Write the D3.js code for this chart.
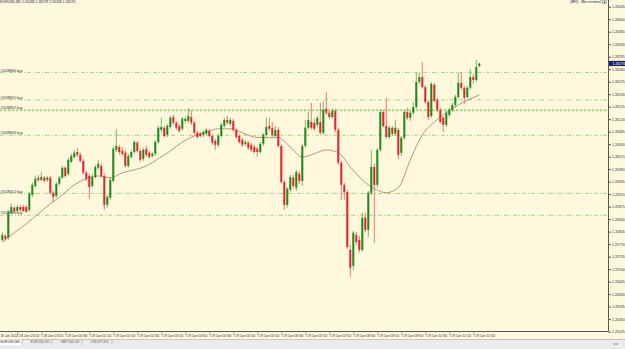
<!DOCTYPE html>
<html>
<head>
<meta charset="utf-8">
<script src="https://cdn.jsdelivr.net/npm/d3@7"></script>
<style>
  html, body { margin: 0; padding: 0; background: #fff8dc; overflow: hidden; }
  svg { display: block; font-family: "Liberation Sans", Arial, sans-serif; }
</style>
</head>
<body>
<div id="chart"></div>
<script>
// EURUSD M5, 18 Jun 2012 22:45 .. 19 Jun 2012 12:00
const symbolTitle = "EURUSD,M5  1.26268 1.26278 1.26268 1.26276";
const terminalTitle = "(BFI) - Mini terminal";
const tabNames = ["EURUSD,M5", "EURUSD,H1", "GBPUSD,H1", "USDJPY,H1"];

const open = [
  1.25782, 1.25793, 1.25788, 1.25858, 1.25872, 1.25863, 1.25874, 1.25874, 1.25874, 1.25866,
  1.25908, 1.25933, 1.25956, 1.25950, 1.25956, 1.25950, 1.25956, 1.25914, 1.25905, 1.25939,
  1.25956, 1.25984, 1.25967, 1.26000, 1.26014, 1.26028, 1.26020, 1.26003, 1.25970, 1.25961,
  1.25933, 1.25958, 1.25984, 1.25989, 1.25961, 1.25880, 1.25900, 1.25947, 1.26034, 1.26042,
  1.26031, 1.26026, 1.25989, 1.26014, 1.26028, 1.26054, 1.26031, 1.26009, 1.26037, 1.26026,
  1.26017, 1.26023, 1.26056, 1.26090, 1.26096, 1.26076, 1.26098, 1.26126, 1.26110, 1.26101,
  1.26093, 1.26115, 1.26115, 1.26126, 1.26110, 1.26082, 1.26079, 1.26076, 1.26079, 1.26087,
  1.26073, 1.26059, 1.26048, 1.26073, 1.26101, 1.26118, 1.26107, 1.26115, 1.26090, 1.26073,
  1.26062, 1.26051, 1.26054, 1.26048, 1.26042, 1.26037, 1.26028, 1.26051, 1.26076, 1.26101,
  1.26096, 1.26073, 1.26090, 1.26045, 1.25944, 1.25880, 1.25922, 1.25956, 1.25928, 1.25967,
  1.25947, 1.26045, 1.26096, 1.26112, 1.26110, 1.26104, 1.26112, 1.26082, 1.26149, 1.26138,
  1.26126, 1.26143, 1.26090, 1.25998, 1.25936, 1.25916, 1.25754, 1.25709, 1.25796, 1.25782,
  1.25754, 1.25844, 1.25810, 1.25914, 1.25986, 1.25936, 1.26034, 1.26140, 1.26101, 1.26070,
  1.26096, 1.26079, 1.26090, 1.26026, 1.26068, 1.26140, 1.26124, 1.26138, 1.26154, 1.26224,
  1.26238, 1.26210, 1.26168, 1.26129, 1.26216, 1.26174, 1.26146, 1.26124, 1.26104, 1.26132,
  1.26146, 1.26160, 1.26182, 1.26222, 1.26208, 1.26182, 1.26208, 1.26238, 1.26230, 1.26268
];
const high = [
  1.25804, 1.25799, 1.25866, 1.25883, 1.25877, 1.25880, 1.25880, 1.25880, 1.25880, 1.25916,
  1.25942, 1.25961, 1.25964, 1.25972, 1.25961, 1.25961, 1.25961, 1.25919, 1.25944, 1.25961,
  1.25989, 1.25989, 1.26012, 1.26023, 1.26034, 1.26040, 1.26026, 1.26009, 1.25975, 1.25967,
  1.25967, 1.25992, 1.26006, 1.25998, 1.25967, 1.25908, 1.25956, 1.26042, 1.26093, 1.26048,
  1.26042, 1.26034, 1.26023, 1.26034, 1.26062, 1.26059, 1.26037, 1.26040, 1.26045, 1.26031,
  1.26028, 1.26062, 1.26101, 1.26124, 1.26101, 1.26107, 1.26129, 1.26132, 1.26115, 1.26107,
  1.26126, 1.26126, 1.26152, 1.26146, 1.26115, 1.26087, 1.26084, 1.26090, 1.26096, 1.26093,
  1.26079, 1.26065, 1.26079, 1.26110, 1.26124, 1.26129, 1.26124, 1.26121, 1.26096, 1.26079,
  1.26068, 1.26062, 1.26059, 1.26054, 1.26048, 1.26042, 1.26056, 1.26082, 1.26124, 1.26124,
  1.26112, 1.26101, 1.26098, 1.26051, 1.25950, 1.25930, 1.25964, 1.25964, 1.25978, 1.25975,
  1.26051, 1.26118, 1.26140, 1.26166, 1.26121, 1.26129, 1.26166, 1.26171, 1.26196, 1.26143,
  1.26149, 1.26149, 1.26096, 1.26003, 1.25942, 1.25922, 1.25768, 1.25807, 1.25804, 1.25793,
  1.25858, 1.25858, 1.25919, 1.26034, 1.25995, 1.26040, 1.26146, 1.26146, 1.26180, 1.26101,
  1.26101, 1.26118, 1.26096, 1.26073, 1.26146, 1.26152, 1.26143, 1.26168, 1.26250, 1.26250,
  1.26280, 1.26216, 1.26174, 1.26224, 1.26222, 1.26180, 1.26152, 1.26129, 1.26143, 1.26152,
  1.26166, 1.26188, 1.26250, 1.26250, 1.26213, 1.26213, 1.26261, 1.26247, 1.26286, 1.26278
];
const low = [
  1.25776, 1.25779, 1.25782, 1.25855, 1.25858, 1.25858, 1.25860, 1.25860, 1.25858, 1.25860,
  1.25902, 1.25928, 1.25944, 1.25947, 1.25942, 1.25944, 1.25908, 1.25888, 1.25900, 1.25933,
  1.25953, 1.25956, 1.25961, 1.25998, 1.26009, 1.26014, 1.25998, 1.25964, 1.25947, 1.25897,
  1.25928, 1.25953, 1.25978, 1.25956, 1.25866, 1.25872, 1.25894, 1.25942, 1.26028, 1.26020,
  1.26017, 1.25984, 1.25984, 1.26009, 1.26023, 1.26026, 1.26000, 1.26003, 1.26014, 1.26009,
  1.26012, 1.26017, 1.26051, 1.26084, 1.26068, 1.26070, 1.26093, 1.26104, 1.26090, 1.26082,
  1.26087, 1.26110, 1.26110, 1.26104, 1.26076, 1.26065, 1.26068, 1.26070, 1.26073, 1.26068,
  1.26048, 1.26034, 1.26042, 1.26068, 1.26096, 1.26104, 1.26101, 1.26084, 1.26065, 1.26051,
  1.26042, 1.26045, 1.26034, 1.26028, 1.26023, 1.26014, 1.26023, 1.26045, 1.26070, 1.26087,
  1.26070, 1.26068, 1.26040, 1.25939, 1.25866, 1.25872, 1.25916, 1.25925, 1.25919, 1.25939,
  1.25933, 1.26040, 1.26090, 1.26090, 1.26087, 1.26098, 1.26076, 1.26076, 1.26132, 1.26121,
  1.26121, 1.26082, 1.25992, 1.25894, 1.25894, 1.25757, 1.25678, 1.25698, 1.25768, 1.25746,
  1.25748, 1.25802, 1.25790, 1.25908, 1.25774, 1.25928, 1.26028, 1.26096, 1.26065, 1.26065,
  1.26073, 1.26073, 1.26006, 1.26017, 1.26062, 1.26118, 1.26115, 1.26132, 1.26149, 1.26219,
  1.26205, 1.26163, 1.26118, 1.26124, 1.26166, 1.26140, 1.26107, 1.26084, 1.26098, 1.26126,
  1.26140, 1.26154, 1.26177, 1.26202, 1.26163, 1.26177, 1.26202, 1.26219, 1.26224, 1.26268
];
const close = [
  1.25796, 1.25785, 1.25858, 1.25874, 1.25863, 1.25874, 1.25866, 1.25863, 1.25860, 1.25911,
  1.25936, 1.25953, 1.25950, 1.25958, 1.25947, 1.25956, 1.25914, 1.25902, 1.25939, 1.25956,
  1.25984, 1.25961, 1.26006, 1.26017, 1.26026, 1.26020, 1.26003, 1.25970, 1.25953, 1.25930,
  1.25958, 1.25986, 1.25995, 1.25961, 1.25880, 1.25902, 1.25950, 1.26037, 1.26045, 1.26028,
  1.26023, 1.25989, 1.26017, 1.26028, 1.26056, 1.26031, 1.26006, 1.26034, 1.26020, 1.26014,
  1.26023, 1.26056, 1.26096, 1.26098, 1.26073, 1.26101, 1.26124, 1.26110, 1.26096, 1.26087,
  1.26121, 1.26121, 1.26129, 1.26110, 1.26082, 1.26070, 1.26073, 1.26084, 1.26090, 1.26073,
  1.26054, 1.26048, 1.26073, 1.26104, 1.26118, 1.26110, 1.26118, 1.26090, 1.26070, 1.26056,
  1.26048, 1.26056, 1.26040, 1.26034, 1.26028, 1.26028, 1.26051, 1.26076, 1.26098, 1.26093,
  1.26076, 1.26090, 1.26045, 1.25944, 1.25880, 1.25925, 1.25958, 1.25933, 1.25972, 1.25947,
  1.26045, 1.26096, 1.26118, 1.26096, 1.26093, 1.26124, 1.26082, 1.26146, 1.26138, 1.26126,
  1.26143, 1.26090, 1.25998, 1.25936, 1.25916, 1.25762, 1.25704, 1.25802, 1.25776, 1.25754,
  1.25844, 1.25810, 1.25914, 1.25986, 1.25936, 1.26034, 1.26140, 1.26101, 1.26070, 1.26096,
  1.26079, 1.26096, 1.26020, 1.26068, 1.26140, 1.26124, 1.26138, 1.26154, 1.26224, 1.26238,
  1.26210, 1.26168, 1.26126, 1.26219, 1.26171, 1.26146, 1.26112, 1.26104, 1.26138, 1.26146,
  1.26160, 1.26182, 1.26222, 1.26208, 1.26180, 1.26208, 1.26238, 1.26230, 1.26266, 1.26276
];

// moving average at these bar numbers
const maBars = [0, 4, 8, 12, 16, 20, 24, 28, 32, 36, 40, 44, 48, 52, 56, 60, 64, 68, 72, 76,
  80, 84, 88, 92, 96, 100, 104, 108, 112, 116, 120, 124, 128, 132, 136, 140, 144, 148, 152, 156, 159];
const maValues = [
  1.25776, 1.25802, 1.25827, 1.25855, 1.25883, 1.25908, 1.25936, 1.25953, 1.25961, 1.25956,
  1.25970, 1.25978, 1.25989, 1.26009, 1.26031, 1.26056, 1.26073, 1.26084, 1.26093, 1.26093,
  1.26082, 1.26070, 1.26068, 1.26068, 1.26042, 1.26014, 1.26023, 1.26034, 1.26026, 1.25986,
  1.25950, 1.25925, 1.25914, 1.25928, 1.26006, 1.26076, 1.26112, 1.26138, 1.26160, 1.26177, 1.26188
];

// open orders
const orderPrices = [1.26251, 1.26174, 1.26145, 1.26075, 1.25912, 1.25851];
const orderLabels = ["#5028846 buy", "#5028815 buy", "#5028857 buy", "#5028843 buy", "#5028452 buy", "#5028683 buy"];

const priceTicks = [
  1.26435, 1.26400, 1.26365, 1.26330, 1.26295, 1.26260, 1.26225, 1.26190, 1.26155, 1.26120,
  1.26085, 1.26050, 1.26015, 1.25980, 1.25945, 1.25910, 1.25875, 1.25840, 1.25805, 1.25770,
  1.25735, 1.25700, 1.25665, 1.25630, 1.25595, 1.25560, 1.25525
];
const firstDateLabel = "18 Jun 2012";
const timeTicks = [
  "18 Jun 23:10", "18 Jun 23:50", "19 Jun 00:30", "19 Jun 01:10", "19 Jun 01:50",
  "19 Jun 02:30", "19 Jun 03:10", "19 Jun 03:50", "19 Jun 04:30", "19 Jun 05:10",
  "19 Jun 05:50", "19 Jun 06:30", "19 Jun 07:10", "19 Jun 07:50", "19 Jun 08:30",
  "19 Jun 09:10", "19 Jun 09:50", "19 Jun 10:30", "19 Jun 11:10", "19 Jun 11:50"
];
const lastPrice = 1.26276;

// ---- layout
const W = 625, H = 349;
const plotRight = 608, plotBottom = 331;
const bg = "#fff8dc";
const bull = "#1b8a1b", bear = "#e0262b";
const textColor = "#2e2e3a";
const fs = 3.5;

const svg = d3.select("#chart").append("svg")
    .attr("width", W)
    .attr("height", H);

svg.append("rect").attr("width", W).attr("height", H).attr("fill", bg);

const barTimes = d3.timeMinute.every(5).range(new Date(2012, 5, 18, 22, 45), new Date(2012, 5, 19, 12, 5));
const bars = barTimes.map((t, i) => ({ t, o: open[i], h: high[i], l: low[i], c: close[i] }));

const x = d3.scaleTime()
    .domain([barTimes[0], barTimes[barTimes.length - 1]])
    .range([2.3, 479.3]);
const y = d3.scaleLinear()
    .domain([1.25525, 1.26435])
    .range([331.6, 6.7]);

const plot = svg.append("g");

// Order lines
plot.selectAll("line.order")
    .data(orderPrices)
    .join("line")
    .attr("class", "order")
    .attr("x1", 0)
    .attr("x2", plotRight)
    .attr("y1", d => y(d))
    .attr("y2", d => y(d))
    .attr("stroke", "#a6d287")
    .attr("stroke-width", (d, i) => i === 2 ? 2 : 1)
    .attr("stroke-dasharray", (d, i) => i === 2 ? "2.5,1.5" : "4,2,1,2");

plot.selectAll("text.order")
    .data(orderPrices)
    .join("text")
    .attr("class", "order")
    .attr("x", 0.3)
    .attr("y", d => y(d) - 0.8)
    .attr("font-size", fs)
    .attr("fill", textColor)
    .text((d, i) => orderLabels[i]);

// Moving average
const maLine = d3.line()
    .x((d, i) => x(barTimes[maBars[i]]))
    .y(d => y(d))
    .curve(d3.curveMonotoneX);

plot.append("path")
    .datum(maValues)
    .attr("d", maLine)
    .attr("fill", "none")
    .attr("stroke", "#b08870")
    .attr("stroke-width", 0.9);

// Candles
const candles = plot.selectAll("g.candle")
    .data(bars)
    .join("g")
    .attr("class", "candle");

candles.append("line")
    .attr("x1", d => x(d.t))
    .attr("x2", d => x(d.t))
    .attr("y1", d => y(d.h))
    .attr("y2", d => y(d.l))
    .attr("stroke", d => d.c >= d.o ? bull : bear)
    .attr("stroke-opacity", 0.65)
    .attr("stroke-width", 0.9);

candles.append("rect")
    .attr("x", d => x(d.t) - 1)
    .attr("width", 2)
    .attr("y", d => y(Math.max(d.o, d.c)))
    .attr("height", d => Math.max(0.8, Math.abs(y(d.o) - y(d.c))))
    .attr("fill", d => d.c >= d.o ? bull : bear);

// Frame
svg.append("line")
    .attr("x1", plotRight + 0.5).attr("x2", plotRight + 0.5)
    .attr("y1", 0).attr("y2", plotBottom + 0.5)
    .attr("stroke", "#5a5a5a").attr("stroke-width", 1);
svg.append("line")
    .attr("x1", 0).attr("x2", plotRight + 0.5)
    .attr("y1", plotBottom + 0.5).attr("y2", plotBottom + 0.5)
    .attr("stroke", "#5a5a5a").attr("stroke-width", 1);

// Price axis
const yAxis = d3.axisRight(y)
    .tickValues(priceTicks)
    .tickFormat(d3.format(".5f"))
    .tickSize(2.5)
    .tickPadding(1);

const yAxisG = svg.append("g")
    .attr("transform", `translate(${plotRight + 0.5},0)`)
    .call(yAxis);
yAxisG.select(".domain").remove();
yAxisG.selectAll("line").attr("stroke", "#555");
yAxisG.selectAll("text")
    .attr("font-size", fs)
    .attr("font-family", "Liberation Sans, Arial, sans-serif")
    .attr("fill", textColor);

// Last price marker
const lp = svg.append("g").attr("transform", `translate(${plotRight + 1},${y(lastPrice)})`);
lp.append("rect")
    .attr("x", 0).attr("y", -2.6)
    .attr("width", 16).attr("height", 5.2)
    .attr("fill", "#1d2168");
lp.append("text")
    .attr("x", 3.5).attr("y", 1.2)
    .attr("font-size", fs)
    .attr("fill", "#fff")
    .text(d3.format(".5f")(lastPrice));

// Time axis
const parseTick = d3.timeParse("%d %b %Y %H:%M");
const tickDates = timeTicks.map(s => parseTick(`${s.slice(0, 6)} 2012 ${s.slice(7)}`));

const xAxis = d3.axisBottom(x)
    .tickValues(tickDates)
    .tickSize(5)
    .tickFormat((d, i) => timeTicks[i]);

const xAxisG = svg.append("g")
    .attr("transform", `translate(0,${plotBottom + 0.5})`)
    .call(xAxis);
xAxisG.select(".domain").remove();
xAxisG.selectAll("line").attr("stroke", "#777").attr("stroke-width", 0.6);
xAxisG.selectAll("text")
    .attr("font-size", fs)
    .attr("font-family", "Liberation Sans, Arial, sans-serif")
    .attr("fill", textColor)
    .attr("text-anchor", "start")
    .attr("dx", 1.2)
    .attr("y", 2.6)
    .attr("dy", "0.71em");

svg.append("text")
    .attr("x", 0.3)
    .attr("y", plotBottom + 5.6)
    .attr("font-size", 3.2)
    .attr("fill", textColor)
    .text(firstDateLabel);

// Titles
svg.append("text")
    .attr("x", 0.3).attr("y", 3.4)
    .attr("font-size", fs)
    .attr("fill", "#1e2050")
    .text(symbolTitle);

svg.append("text")
    .attr("x", 601).attr("y", 3.4)
    .attr("text-anchor", "end")
    .attr("font-size", fs)
    .attr("fill", "#1e2050")
    .text(terminalTitle);
svg.append("rect")
    .attr("x", 602.5).attr("y", 0.3)
    .attr("width", 4).attr("height", 3.6)
    .attr("fill", "#e8e8f0").attr("stroke", "#777").attr("stroke-width", 0.4);
svg.append("path")
    .attr("d", "M603.5,3.1 L604.5,1.2 L605.5,3.1 Z")
    .attr("fill", "#333");

// Tab bar
const tabTop = 339.5;
svg.append("rect")
    .attr("x", 0).attr("y", tabTop)
    .attr("width", W).attr("height", H - tabTop)
    .attr("fill", "#ebebeb");
svg.append("line")
    .attr("x1", 0).attr("x2", W)
    .attr("y1", tabTop).attr("y2", tabTop)
    .attr("stroke", "#b4b4b4").attr("stroke-width", 0.8);
svg.append("rect")
    .attr("x", 0).attr("y", tabTop)
    .attr("width", 22).attr("height", 5.5)
    .attr("fill", "#fdfdfd");

const tabs = svg.selectAll("g.tab")
    .data(tabNames)
    .join("g")
    .attr("class", "tab")
    .attr("transform", (d, i) => `translate(${i * 30},${tabTop})`);
tabs.append("text")
    .attr("x", 0.5).attr("y", 3.9)
    .attr("font-size", 3.3)
    .attr("fill", (d, i) => i === 0 ? "#222" : "#666")
    .text(d => d);
tabs.append("line")
    .attr("x1", 22).attr("x2", 22)
    .attr("y1", 0.5).attr("y2", 5)
    .attr("stroke", "#999").attr("stroke-width", 0.5);

svg.append("text")
    .attr("x", 613).attr("y", tabTop + 5)
    .attr("font-size", 3.5)
    .attr("fill", "#888")
    .text("\u25C2  \u25B8");
</script>
</body>
</html>
